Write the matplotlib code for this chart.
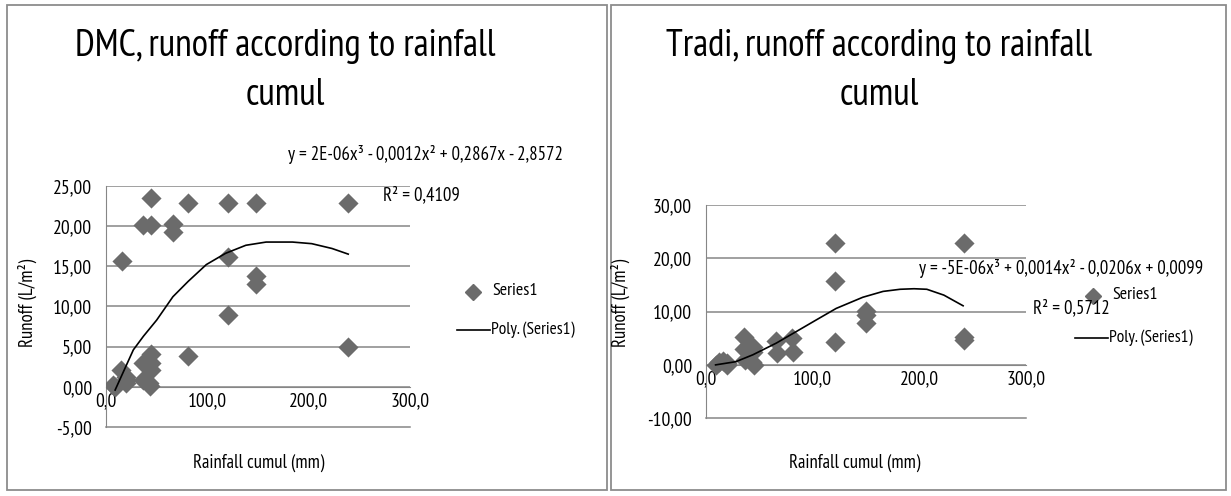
import numpy as np
import matplotlib
matplotlib.use("Agg")
import matplotlib.pyplot as plt
from matplotlib.patches import Rectangle
from matplotlib.ticker import FuncFormatter, MultipleLocator

FONT = ['PT Sans Narrow', 'DejaVu Sans']
plt.rcParams['font.family'] = FONT

# DMC panel
DMC_X = [7, 9, 15, 16, 20, 20, 20, 37, 37, 37, 44, 44, 44, 44, 44, 43, 42,
         66, 66, 81, 81, 120, 120, 120, 148, 148, 148, 239, 239]
DMC_Y = [0.2, 0.0, 2.1, 15.6, 0.9, 0.5, 1.2, 20.1, 3.0, 0.9, 23.5, 20.1, 4.1, 3.0, 2.1, 0.1, 0.5,
         20.3, 19.3, 22.9, 3.8, 22.9, 16.1, 8.9, 22.9, 13.8, 12.8, 22.9, 5.0]
# polynomial trendline as drawn in the picture
DMC_TREND_X = [9, 27, 37, 50, 66, 81, 99, 118, 138, 158, 184, 203, 223, 239]
DMC_TREND_Y = [-0.4, 4.6, 6.3, 8.3, 11.2, 13.1, 15.2, 16.6, 17.6, 18.0, 18.0, 17.8, 17.2, 16.5]
DMC_EQ = "y = 2E-06x³ - 0,0012x² + 0,2867x - 2,8572"
DMC_R2 = "R² = 0,4109"

# Tradi panel
TRADI_X = [9, 12, 16, 20, 20, 36, 36, 37, 44, 44, 43, 45,
           66, 67, 81, 82, 121, 121, 121, 150, 150, 150, 242, 242, 242]
TRADI_Y = [0.0, 0.5, 0.8, 0.0, 0.3, 5.3, 3.0, 1.0, 3.4, 2.4, 0.5, 0.0,
           4.4, 2.2, 5.0, 2.5, 22.9, 15.8, 4.3, 10.1, 9.4, 7.8, 22.9, 5.3, 4.7]
TRADI_TREND_X = [9, 28, 44, 66, 85, 103, 122, 147, 166, 182, 195, 207, 223, 241]
TRADI_TREND_Y = [0.0, 0.6, 1.9, 4.1, 6.3, 8.4, 10.6, 12.7, 13.8, 14.2, 14.3, 14.2, 13.1, 11.1]
TRADI_EQ = "y = -5E-06x³ + 0,0014x² - 0,0206x + 0,0099"
TRADI_R2 = "R² = 0,5712"

GRID = '#868686'
MARK = '#6b6b6b'


def comma_fmt(nd):
    return FuncFormatter(lambda v, p: f"{v:.{nd}f}".replace('.', ','))


def draw_panel(fig, rect, xs, ys, tx, ty, ylim, ystep, title, title_x, eq, eq_xy, r2, r2_xy,
               ylab_x, xlab_x, leg_marker, leg_line):
    ax = fig.add_axes(rect)
    ax.set_xlim(0, 300)
    ax.set_ylim(*ylim)
    ax.yaxis.set_major_locator(MultipleLocator(ystep))
    ax.xaxis.set_major_locator(MultipleLocator(100))
    ax.yaxis.set_major_formatter(comma_fmt(2))
    ax.xaxis.set_major_formatter(comma_fmt(1))
    for v in np.arange(0, ylim[1] + 0.01, ystep):
        ax.axhline(v, color=GRID, lw=1.1, zorder=1)
    ax.axhline(ylim[0], color=GRID, lw=1.1, zorder=1, clip_on=False)
    ax.spines['bottom'].set_position(('data', 0))
    ax.spines['bottom'].set_color(GRID)
    ax.spines['left'].set_color(GRID)
    ax.spines['right'].set_visible(False)
    ax.spines['top'].set_visible(False)
    ax.tick_params(length=0, labelsize=14, colors='black')
    ax.tick_params(axis='y', pad=10)
    ax.tick_params(axis='x', pad=4)

    ax.scatter(xs, ys, marker='D', s=105, color=MARK, zorder=3, linewidths=0)
    ax.plot(tx, ty, color='black', lw=1.2, zorder=4)

    fig.text(title_x, 0.857, title, ha='center', va='center', fontsize=27, linespacing=1.5)
    fig.text(eq_xy[0], eq_xy[1], eq, fontsize=13.5, va='center')
    fig.text(r2_xy[0], r2_xy[1], r2, fontsize=13.5, va='center')
    fig.text(ylab_x, 0.39, "Runoff (L/m²)", rotation=90, ha='center', va='center', fontsize=13.5)
    fig.text(xlab_x, 0.066, "Rainfall cumul (mm)", ha='center', va='center', fontsize=13.5)

    # legend
    fig.lines.append(plt.Line2D([leg_marker[0]], [leg_marker[1]], marker='D', ms=8, color=MARK,
                                lw=0, transform=fig.transFigure, figure=fig))
    fig.text(leg_marker[0] + 0.016, leg_marker[1] + 0.003, "Series1", fontsize=13, va='center')
    fig.lines.append(plt.Line2D([leg_line[0], leg_line[0] + 0.027], [leg_line[1], leg_line[1]],
                                color='black', lw=1.2, transform=fig.transFigure, figure=fig))
    fig.text(leg_line[0] + 0.028, leg_line[1], "Poly. (Series1)", fontsize=12.5, va='center')
    return ax


fig = plt.figure(figsize=(12.31, 4.96), dpi=100)

# panel borders
fig.patches.append(Rectangle((0.006, 0.012), 0.487, 0.978, transform=fig.transFigure,
                             fill=False, edgecolor='#8c8c8c', lw=1.3, figure=fig))
fig.patches.append(Rectangle((0.496, 0.012), 0.500, 0.978, transform=fig.transFigure,
                             fill=False, edgecolor='#8c8c8c', lw=1.3, figure=fig))

draw_panel(fig, [0.0861, 0.139, 0.247, 0.4865], DMC_X, DMC_Y, DMC_TREND_X, DMC_TREND_Y,
           (-5, 25), 5, "DMC, runoff according to rainfall\ncumul", 0.232,
           DMC_EQ, (0.234, 0.6875), DMC_R2, (0.311, 0.607),
           0.022, 0.21, (0.384, 0.411), (0.371, 0.335))

draw_panel(fig, [0.5735, 0.157, 0.260, 0.4294], TRADI_X, TRADI_Y, TRADI_TREND_X, TRADI_TREND_Y,
           (-10, 30), 10, "Tradi, runoff according to rainfall\ncumul", 0.714,
           TRADI_EQ, (0.7465, 0.458), TRADI_R2, (0.839, 0.379),
           0.504, 0.694, (0.888, 0.403), (0.873, 0.319))

fig.savefig("out.png", dpi=100)
